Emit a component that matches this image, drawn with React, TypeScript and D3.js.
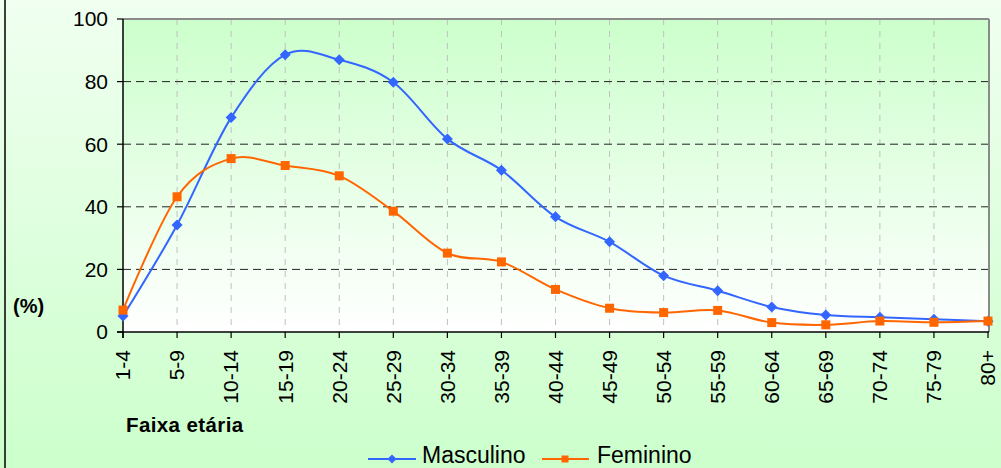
import React from "react";
import * as d3 from "d3";

const categories = ["1-4","5-9","10-14","15-19","20-24","25-29","30-34","35-39","40-44","45-49","50-54","55-59","60-64","65-69","70-74","75-79","80+"];
const masculino = [5.1, 34.2, 68.5, 88.6, 87.0, 79.8, 61.7, 51.7, 36.8, 28.8, 18.0, 13.2, 8.0, 5.4, 4.7, 4.1, 3.4];
const feminino = [7.0, 43.2, 55.4, 53.2, 49.9, 38.6, 25.2, 22.4, 13.6, 7.6, 6.2, 6.9, 3.0, 2.3, 3.5, 3.1, 3.5];
const yTicks = [0, 20, 40, 60, 80, 100];

const W = 1001, H = 468;
const L = 123, R = 989, T = 19, B = 332;
const FONT = "'Liberation Sans', Arial, sans-serif";
const BLUE = "#3366ff";
const ORANGE = "#ff6600";

export default function App() {
  const x = d3.scalePoint<string>().domain(categories).range([L, R - 1]);
  const y = d3.scaleLinear().domain([0, 100]).range([B, T]);
  const line = d3.line<number>()
    .x((_, i) => x(categories[i]) as number)
    .y((d) => y(d))
    .curve(d3.curveCardinal.tension(0));

  const diamond = (cx: number, cy: number, r: number) =>
    `M${cx},${cy - r}L${cx + r},${cy}L${cx},${cy + r}L${cx - r},${cy}Z`;

  return (
    <svg width={W} height={H} style={{ position: "absolute", left: 0, top: 0 }} fontFamily={FONT}>
      <defs>
        <linearGradient id="outerBg" x1="0" y1="0" x2="0" y2="1">
          <stop offset="0" stopColor="#f0fff0" />
          <stop offset="1" stopColor="#ccffcc" />
        </linearGradient>
        <linearGradient id="plotBg" x1="0" y1="0" x2="0" y2="1">
          <stop offset="0" stopColor="#ccffcc" />
          <stop offset="1" stopColor="#ffffff" />
        </linearGradient>
      </defs>
      <rect x={0} y={0} width={W} height={H} fill="url(#outerBg)" />
      <line x1={5} x2={5} y1={0} y2={H} stroke="#000" strokeWidth={1.5} />
      <rect x={L} y={T} width={R - L} height={B - T} fill="url(#plotBg)" />

      {/* vertical grid */}
      {categories.slice(1, -1).map((c) => (
        <line key={"vg" + c} x1={x(c)} x2={x(c)} y1={T} y2={B} stroke="#c0c0c0" strokeWidth={1} strokeDasharray="6,6" />
      ))}
      {/* horizontal grid */}
      {yTicks.slice(1, -1).map((t) => (
        <line key={"hg" + t} x1={L} x2={R} y1={y(t)} y2={y(t)} stroke="#222" strokeWidth={1} strokeDasharray="8,5" />
      ))}

      {/* plot border top/right */}
      <line x1={L} x2={R} y1={T} y2={T} stroke="#8a8a8a" strokeWidth={2} />
      <line x1={R} x2={R} y1={T} y2={B} stroke="#8a8a8a" strokeWidth={2} />

      {/* axes */}
      <line x1={L} x2={L} y1={T} y2={B + 6} stroke="#000" strokeWidth={1.5} />
      <line x1={L - 6} x2={R} y1={B} y2={B} stroke="#000" strokeWidth={1.5} />
      {yTicks.map((t) => (
        <g key={"yt" + t}>
          <line x1={L - 6} x2={L} y1={y(t)} y2={y(t)} stroke="#000" strokeWidth={1.2} />
          <text x={108} y={y(t)} dy="0.35em" textAnchor="end" fontSize={21} fill="#000">{t}</text>
        </g>
      ))}
      {categories.map((c) => (
        <g key={"xt" + c}>
          <line x1={x(c)} x2={x(c)} y1={B} y2={B + 6} stroke="#000" strokeWidth={1.2} />
          <text transform={`translate(${x(c)},350) rotate(-90)`} dy="0.35em" textAnchor="end" fontSize={21} fill="#000">{c}</text>
        </g>
      ))}

      <text x={13} y={313} fontSize={20} fontWeight="bold" fill="#000">(%)</text>
      <text x={126} y={432} fontSize={20.5} fontWeight="bold" letterSpacing={0.4} fill="#000">Faixa etária</text>

      {/* series */}
      <path d={line(masculino) || ""} fill="none" stroke={BLUE} strokeWidth={2} />
      {masculino.map((v, i) => (
        <path key={"m" + i} d={diamond(x(categories[i]) as number, y(v), 5.5)} fill={BLUE} />
      ))}
      <path d={line(feminino) || ""} fill="none" stroke={ORANGE} strokeWidth={2} />
      {feminino.map((v, i) => (
        <rect key={"f" + i} x={(x(categories[i]) as number) - 4.5} y={y(v) - 4.5} width={9} height={9} fill={ORANGE} />
      ))}

      {/* legend */}
      <line x1={368} x2={416} y1={459} y2={459} stroke={BLUE} strokeWidth={2} />
      <path d={diamond(392, 459, 4.5)} fill={BLUE} />
      <text x={422} y={463} fontSize={23} fill="#000">Masculino</text>
      <line x1={542} x2={589} y1={459} y2={459} stroke={ORANGE} strokeWidth={2} />
      <rect x={561.5} y={455.5} width={7} height={7} fill={ORANGE} />
      <text x={597} y={463} fontSize={23} fill="#000">Feminino</text>
    </svg>
  );
}
